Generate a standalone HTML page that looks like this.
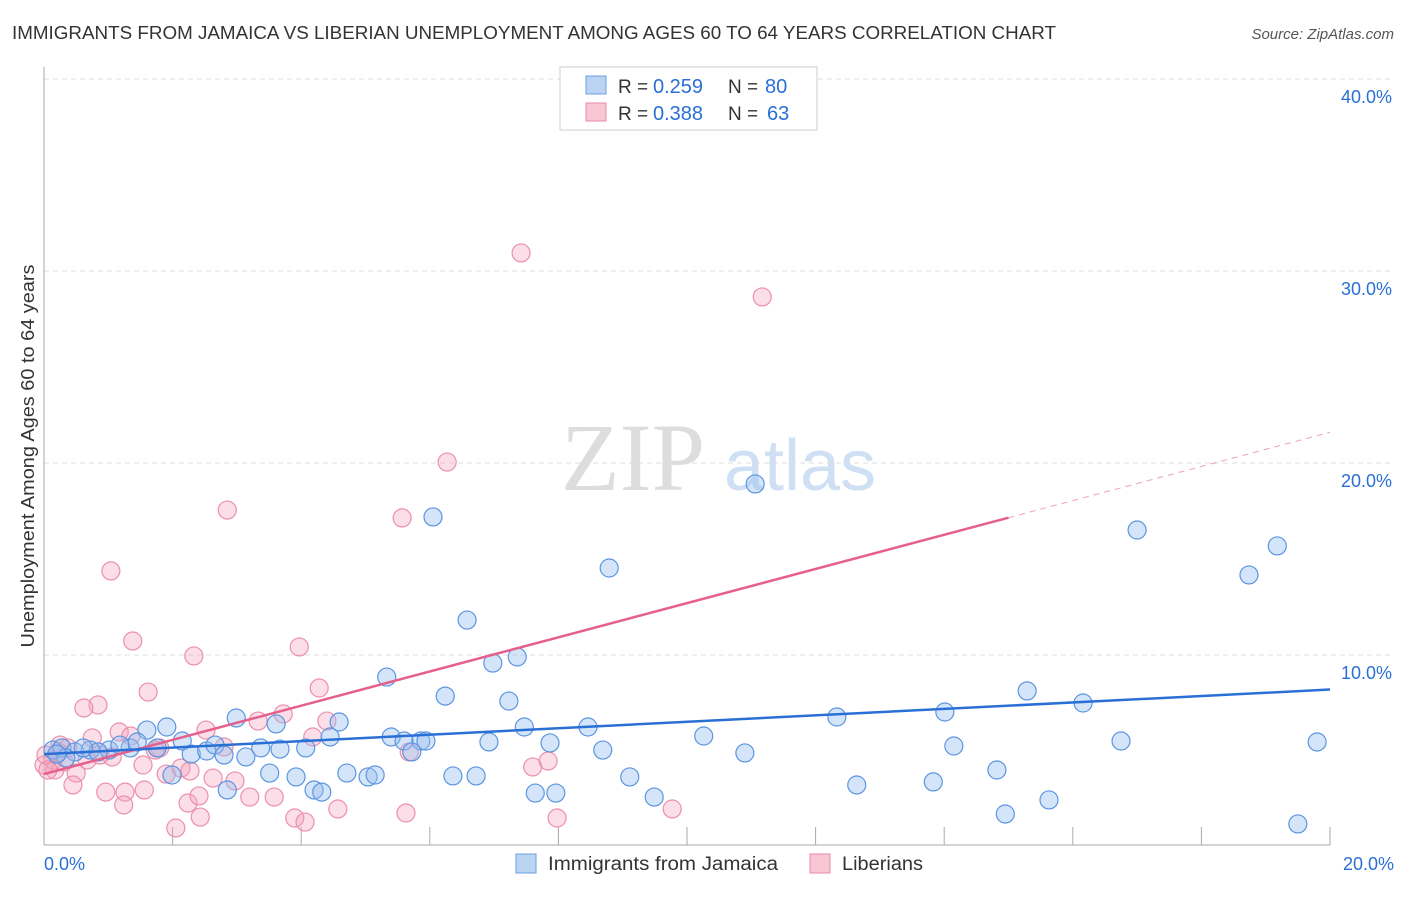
<!DOCTYPE html>
<html><head><meta charset="utf-8"><style>
body{margin:0;background:#fff;font-family:"Liberation Sans",sans-serif;}
</style></head><body>
<svg width="1406" height="892" xmlns="http://www.w3.org/2000/svg" font-family="Liberation Sans, sans-serif">
<text x="12" y="39" font-size="18" fill="#333" textLength="1044" lengthAdjust="spacingAndGlyphs">IMMIGRANTS FROM JAMAICA VS LIBERIAN UNEMPLOYMENT AMONG AGES 60 TO 64 YEARS CORRELATION CHART</text>
<text x="1394" y="39" font-size="15" fill="#555" text-anchor="end" font-style="italic">Source: ZipAtlas.com</text>
<g><text x="633" y="490" font-size="96" fill="#ddd" text-anchor="middle" font-family="Liberation Serif, serif">ZIP</text><text x="800" y="490" font-size="72" fill="#cfe0f5" text-anchor="middle">atlas</text></g>
<g id="grid"></g><g id="axes"></g><g id="pts"></g><g id="trend"></g>
<text transform="translate(34,456) rotate(-90)" font-size="18" fill="#333" text-anchor="middle" textLength="383" lengthAdjust="spacingAndGlyphs">Unemployment Among Ages 60 to 64 years</text>
<g>
<rect x="560" y="67" width="257" height="63" fill="#fff" stroke="#ccc"/>
<rect x="586" y="76" width="20" height="18" fill="#bcd4f3" stroke="#6a9fe0"/>
<rect x="586" y="103" width="20" height="18" fill="#f8c6d4" stroke="#e88aa8"/>
<text x="618" y="93" font-size="19" fill="#333">R =</text><text x="653" y="93" font-size="20" fill="#2a6fd6">0.259</text>
<text x="728" y="93" font-size="19" fill="#333">N =</text><text x="765" y="93" font-size="20" fill="#2a6fd6">80</text>
<text x="618" y="120" font-size="19" fill="#333">R =</text><text x="653" y="120" font-size="20" fill="#2a6fd6">0.388</text>
<text x="728" y="120" font-size="19" fill="#333">N =</text><text x="767" y="120" font-size="20" fill="#2a6fd6">63</text>
</g>
<g>
<rect x="516" y="854" width="20" height="19" fill="#bcd4f3" stroke="#6a9fe0"/>
<text x="548" y="870" font-size="19" fill="#333" textLength="230" lengthAdjust="spacingAndGlyphs">Immigrants from Jamaica</text>
<rect x="810" y="854" width="20" height="19" fill="#f8c6d4" stroke="#e88aa8"/>
<text x="842" y="870" font-size="19" fill="#333" textLength="81" lengthAdjust="spacingAndGlyphs">Liberians</text>
</g>
</svg>
<script>
const xTicks=[0,2,4,6,8,10,12,14,16,18,20];
const yTicks=[10,20,30,40];
const bluePx=[[433,517],[755,484],[1137,530],[1277,546],[1249,575],[609,568],[467,620],[493,663],[517,657],[387,677],[445,696],[509,701],[1027,691],[1083,703],[837,717],[945,712],[167,727],[236,718],[276,724],[339,722],[524,727],[588,727],[147,730],[182,741],[261,748],[306,748],[330,737],[391,737],[404,741],[421,741],[426,741],[489,742],[550,743],[704,736],[954,746],[1121,741],[1317,742],[603,750],[745,753],[412,752],[53,750],[62,748],[75,752],[90,750],[109,750],[130,748],[157,748],[191,754],[207,751],[215,745],[224,755],[246,757],[172,775],[270,773],[296,777],[347,773],[368,777],[375,775],[453,776],[476,776],[630,777],[857,785],[933,782],[997,770],[227,790],[314,790],[322,792],[535,793],[556,793],[654,797],[1049,800],[1005,814],[1298,824],[66,758],[98,752],[120,745],[83,748],[57,754],[137,742],[280,749]];
const pinkPx=[[521,253],[762,297],[447,462],[227,510],[402,518],[111,571],[133,641],[194,656],[299,647],[148,692],[98,705],[84,708],[319,688],[283,714],[206,730],[327,721],[258,721],[313,737],[224,747],[119,732],[131,736],[60,745],[68,748],[92,738],[100,755],[112,757],[143,765],[155,750],[160,748],[181,768],[190,771],[213,778],[235,781],[548,761],[533,767],[409,752],[76,773],[53,760],[44,765],[73,785],[106,792],[125,792],[144,790],[166,774],[188,803],[199,796],[250,797],[274,797],[124,805],[200,817],[176,828],[295,818],[305,822],[338,809],[406,813],[557,818],[672,809],[46,755],[55,770],[64,762],[48,770],[87,760],[58,752]];
// data values (percent)
const blueX=bluePx.map(p=>+((p[0]-44)/64.3).toFixed(2));
const blueY=bluePx.map(p=>+((847-p[1])/19.2).toFixed(2));
const pinkX=pinkPx.map(p=>+((p[0]-44)/64.3).toFixed(2));
const pinkY=pinkPx.map(p=>+((847-p[1])/19.2).toFixed(2));
const blueTrend=[4.84,8.2];
const pinkTrend=[3.8,21.6];
const pinkSolidEnd=15.0;
const X=v=>44+v*64.3, Y=v=>847-v*19.2;
const NS='http://www.w3.org/2000/svg';
function mk(t,a,p){const e=document.createElementNS(NS,t);for(const k in a)e.setAttribute(k,a[k]);p.appendChild(e);return e;}
const grid=document.getElementById('grid'),axes=document.getElementById('axes'),pts=document.getElementById('pts'),tr=document.getElementById('trend');
yTicks.forEach(v=>{const l=mk('line',{x1:44,x2:1394,y1:Y(v),y2:Y(v),stroke:'#ddd','stroke-dasharray':'5,4'},grid);


const t=mk('text',{x:1392,y:Y(v)+24,'font-size':18,fill:'#2a6fd6','text-anchor':'end'},axes);t.textContent=v.toFixed(1)+'%';

});
mk('line',{x1:44,x2:1394,y1:79,y2:79,stroke:'#ddd','stroke-dasharray':'5,4'},grid);
mk('line',{x1:44,x2:44,y1:67,y2:845,stroke:'#aaa'},axes);
mk('line',{x1:44,x2:1330,y1:845,y2:845,stroke:'#aaa'},axes);
xTicks.forEach(v=>{if(v>0){const l=mk('line',{x1:X(v),x2:X(v),y1:827,y2:845,stroke:'#aaa'},axes);

}});
[[0,'0.0%',44,'start'],[20,'20.0%',1394,'end']].forEach(a=>{const t=mk('text',{x:a[2],y:870,'font-size':18,fill:'#2a6fd6','text-anchor':a[3]},axes);t.textContent=a[1];

});
pinkX.forEach((x,i)=>{const c=mk('circle',{cx:X(x),cy:Y(pinkY[i]),r:9,fill:'rgba(244,160,186,0.35)',stroke:'#ec8fad','stroke-width':1.2},pts);

});
blueX.forEach((x,i)=>{const c=mk('circle',{cx:X(x),cy:Y(blueY[i]),r:9,fill:'rgba(150,190,240,0.4)',stroke:'#5b95e0','stroke-width':1.2},pts);

});
const pe=pinkTrend[0]+(pinkTrend[1]-pinkTrend[0])*pinkSolidEnd/20;
let l=mk('line',{x1:X(0),y1:Y(pinkTrend[0]),x2:X(pinkSolidEnd),y2:Y(pe),stroke:'#e5608c','stroke-width':2.5},tr);


l=mk('line',{x1:X(pinkSolidEnd),y1:Y(pe),x2:X(20),y2:Y(pinkTrend[1]),stroke:'#e5608c','stroke-width':1,'stroke-dasharray':'6,5',opacity:0.6},tr);


l=mk('line',{x1:X(0),y1:Y(blueTrend[0]),x2:X(20),y2:Y(blueTrend[1]),stroke:'#2a6fd6','stroke-width':2.5},tr);


</script>
</body></html>
